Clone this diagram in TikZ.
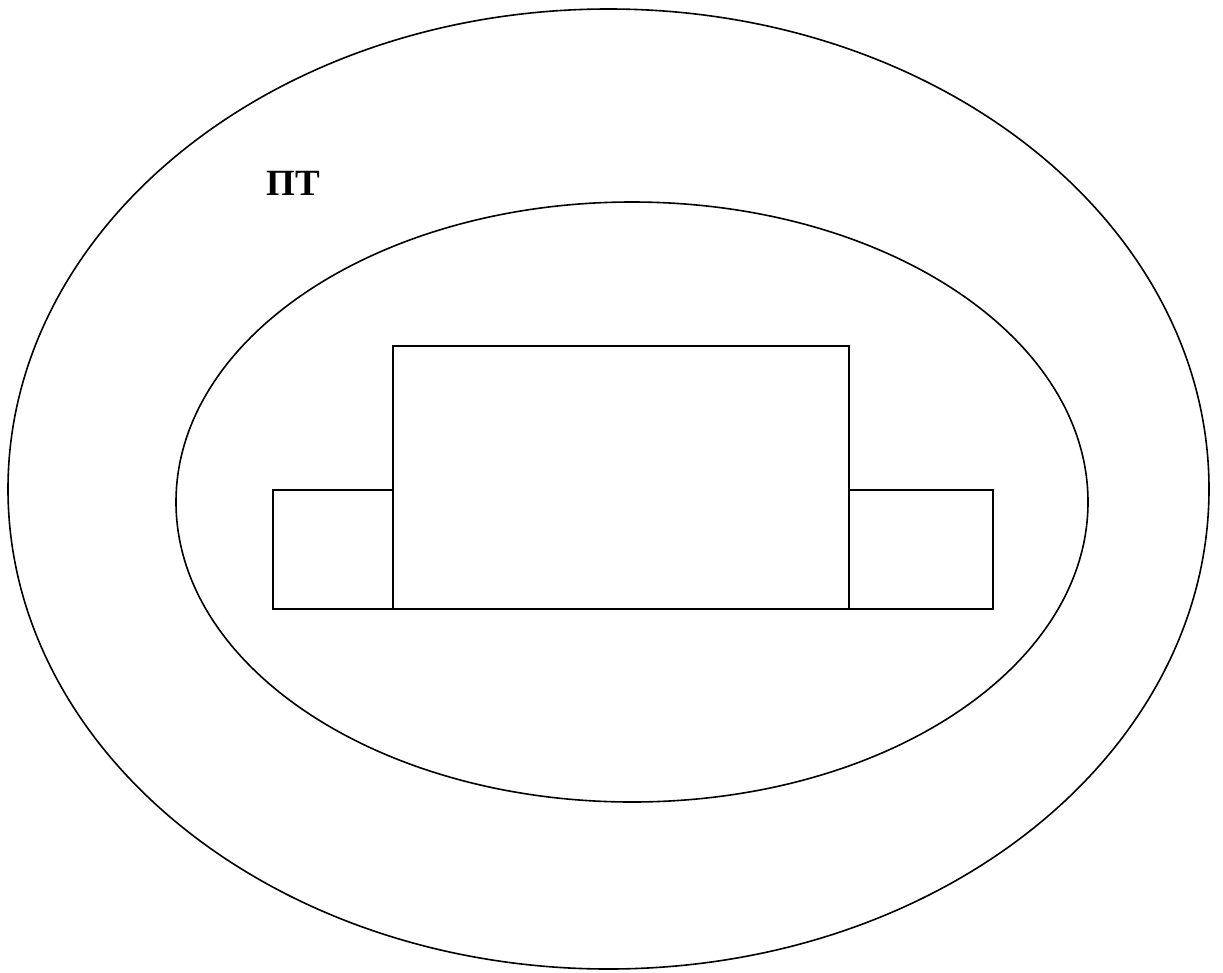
\documentclass[tikz,border=0pt]{standalone}
\usepackage{fontspec}
\setmainfont{Liberation Serif}
\usetikzlibrary{shapes.geometric}
\tikzset{line/.style={draw=black,line width=1.6pt},
  lbl/.style={font=\bfseries\fontsize{37}{37}\selectfont,inner sep=0pt}}
\begin{document}
\begin{tikzpicture}[x=1pt,y=-1pt]
\useasboundingbox (0,0) rectangle (1223,972);
\node[line,ellipse,minimum width=1201,minimum height=960,inner sep=0pt] (outer) at (608.5,489) {};
\node[line,ellipse,minimum width=912,minimum height=600,inner sep=0pt] (inner) at (632,502) {};
\draw[line] (393,609) rectangle (849,346);
\draw[line] (273,490) rectangle (393,609);
\draw[line] (849,490) rectangle (993,609);
\node[lbl] (pt) at (293.5,183) {ПТ};
\end{tikzpicture}
\end{document}
